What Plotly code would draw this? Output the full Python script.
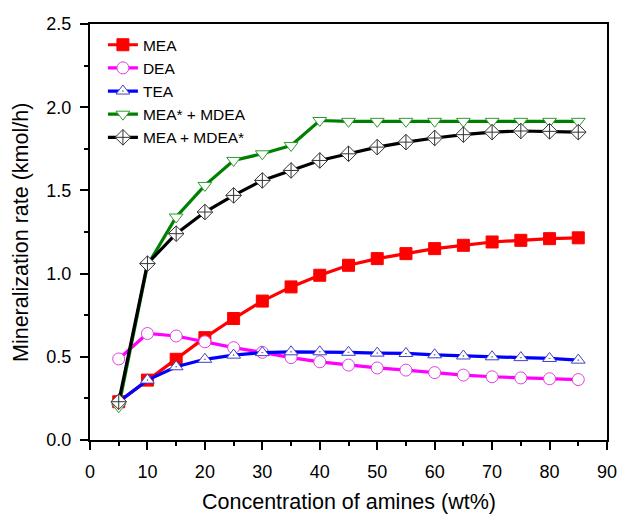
import plotly.graph_objects as go

conc = [5, 10, 15, 20, 25, 30, 35, 40, 45, 50, 55, 60, 65, 70, 75, 80, 85]
mea = [0.23, 0.36, 0.485, 0.615, 0.73, 0.835, 0.92, 0.99, 1.05, 1.09, 1.12, 1.15, 1.17, 1.19, 1.20, 1.21, 1.215]
dea = [0.487, 0.64, 0.625, 0.59, 0.555, 0.527, 0.495, 0.47, 0.45, 0.433, 0.42, 0.405, 0.39, 0.38, 0.373, 0.368, 0.363]
tea = [0.23, 0.36, 0.44, 0.485, 0.51, 0.525, 0.53, 0.53, 0.527, 0.522, 0.52, 0.512, 0.505, 0.50, 0.495, 0.49, 0.48]
mea_star_mdea = [0.20, 1.05, 1.34, 1.53, 1.68, 1.72, 1.77, 1.92, 1.915, 1.915, 1.915, 1.915, 1.915, 1.915, 1.915, 1.915, 1.915]
mea_mdea_star = [0.23, 1.06, 1.24, 1.37, 1.47, 1.56, 1.62, 1.68, 1.72, 1.76, 1.79, 1.815, 1.835, 1.85, 1.857, 1.855, 1.85]
x_title = "Concentration of amines (wt%)"
y_title = "Mineralization rate (kmol/h)"

series = [
    ("MEA", mea, "#ff0000", "square", "#ff0000", "#ff0000"),
    ("DEA", dea, "#ff00ff", "circle", "white", "#e040e0"),
    ("TEA", tea, "#0000ff", "triangle-up-dot", "white", "#4040c0"),
    ("MEA* + MDEA", mea_star_mdea, "#008000", "triangle-down", "white", "#2e9a2e"),
    ("MEA + MDEA*", mea_mdea_star, "#000000", "diamond-cross", "white", "#333333"),
]

fig = go.Figure()
for name, ys, col, sym, fill, mline in series:
    fig.add_trace(go.Scatter(
        x=conc, y=ys, name=name, mode="lines+markers",
        line=dict(color=col, width=3.2),
        marker=dict(symbol=sym, size=12, color=fill, line=dict(color=mline, width=1)),
    ))

font_family = "Liberation Sans, Arial, sans-serif"
fig.update_layout(
    width=620, height=514,
    margin=dict(l=90, r=13, t=24, b=74),
    paper_bgcolor="white", plot_bgcolor="white",
    font=dict(family=font_family, size=18, color="black"),
    showlegend=True,
    legend=dict(x=0.025, y=0.99, xanchor="left", yanchor="top",
                bgcolor="rgba(0,0,0,0)", font=dict(size=15.5),
                tracegroupgap=0, itemsizing="trace"),
    xaxis=dict(
        range=[0, 90], dtick=10, tick0=0, automargin=False, ticklabelstandoff=6,
        showgrid=False, zeroline=False,
        showline=True, linecolor="black", linewidth=2, mirror=True,
        ticks="outside", ticklen=8, tickwidth=2, tickcolor="black",
        minor=dict(dtick=5, ticks="outside", ticklen=4, tickwidth=2, tickcolor="black", showgrid=False),
    ),
    yaxis=dict(
        range=[0, 2.5], dtick=0.5, tick0=0, tickformat=".1f", automargin=False, ticklabelstandoff=5,
        showgrid=False, zeroline=False,
        showline=True, linecolor="black", linewidth=2, mirror=True,
        ticks="outside", ticklen=8, tickwidth=2, tickcolor="black",
        minor=dict(dtick=0.25, ticks="outside", ticklen=4, tickwidth=2, tickcolor="black", showgrid=False),
    ),
    annotations=[
        dict(text=x_title, xref="paper", yref="paper", x=0.5, y=-0.149,
             xanchor="center", yanchor="middle", showarrow=False,
             font=dict(size=21.5, family=font_family, color="black")),
        dict(text=y_title, xref="paper", yref="paper", x=-0.1335, y=0.5,
             xanchor="center", yanchor="middle", showarrow=False, textangle=-90,
             font=dict(size=21.5, family=font_family, color="black")),
    ],
)

fig.write_html("out.html")
